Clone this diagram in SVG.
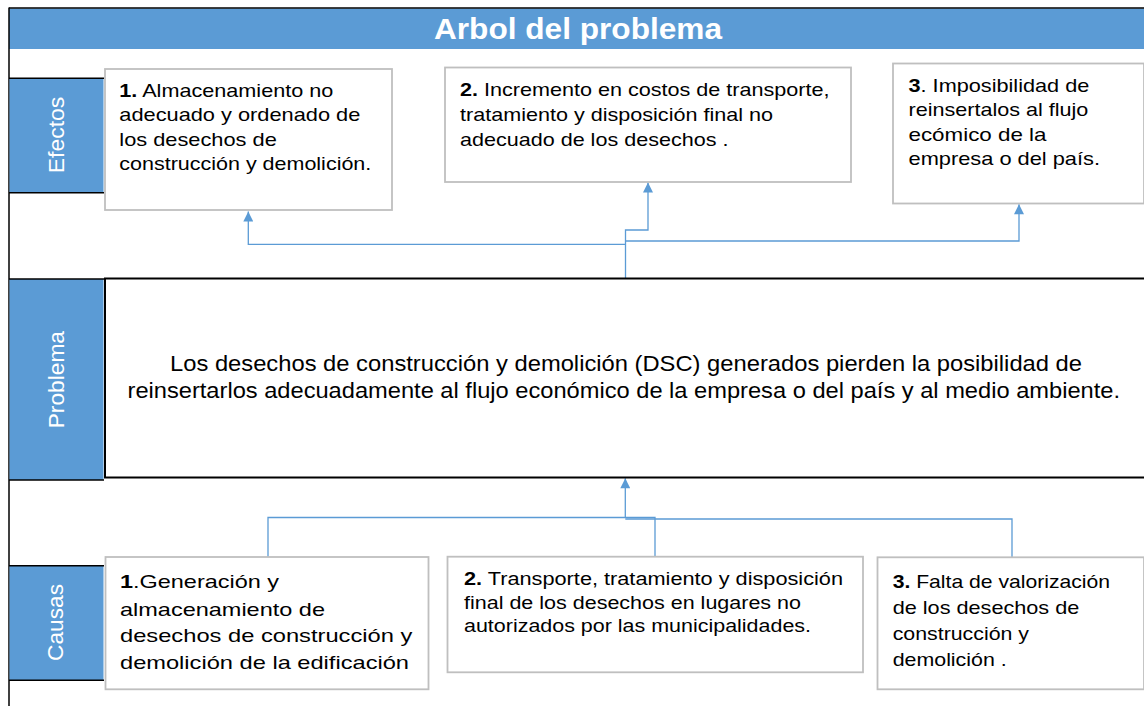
<svg xmlns="http://www.w3.org/2000/svg" width="1144" height="706" viewBox="0 0 1144 706">
<defs>
<style>
.t{font-family:"Liberation Sans",Arial,sans-serif;fill:#000;}
.e{font-size:18.5px;}
.c2{font-size:17.5px;}
.p{font-size:22px;}
.lbl{font-family:"Liberation Sans",Arial,sans-serif;font-size:22px;fill:#fff;text-anchor:middle;}
.title{font-family:"Liberation Sans",Arial,sans-serif;font-size:29px;font-weight:bold;fill:#fff;}
.box{fill:#fff;stroke:#BFBFBF;stroke-width:1.8;}
.lane{fill:#5B9BD5;}
.blk{stroke:#000;stroke-width:1.5;fill:none;}
.conn{fill:none;stroke:#5B9BD5;stroke-width:1.3;}
b,.b{font-weight:bold;}
</style>
<marker id="arr" viewBox="0 0 10 10" refX="10" refY="5" markerWidth="11" markerHeight="10" markerUnits="userSpaceOnUse" orient="auto">
<path d="M0,0 L10,5 L0,10 z" fill="#5B9BD5"/>
</marker>
</defs>
<rect x="0" y="0" width="1144" height="706" fill="#fff"/>

<!-- frame and title -->
<g id="title">
<rect x="9" y="8.5" width="1135" height="40.5" class="lane"/>
<text class="title" x="434" y="39.3" textLength="288" lengthAdjust="spacingAndGlyphs">Arbol del problema</text>
</g>
<g id="frame">
<line x1="9" y1="8" x2="1144" y2="8" class="blk"/>
<line x1="9" y1="7.5" x2="9" y2="706" class="blk"/>
</g>

<!-- lane labels -->
<g id="lane-efectos">
<rect x="9.5" y="78.3" width="94" height="114.4" class="lane"/>
<line x1="9" y1="78.3" x2="104" y2="78.3" class="blk"/>
<line x1="9" y1="192.7" x2="104" y2="192.7" class="blk"/>
<text class="lbl" transform="translate(63.5,135) rotate(-90)" textLength="76.6" lengthAdjust="spacingAndGlyphs">Efectos</text>
</g>
<g id="lane-problema">
<rect x="9.5" y="279" width="94" height="201" class="lane"/>
<line x1="9" y1="279" x2="104" y2="279" class="blk"/>
<line x1="9" y1="480" x2="104" y2="480" class="blk"/>
<text class="lbl" transform="translate(64.3,379.7) rotate(-90)" textLength="97.3" lengthAdjust="spacingAndGlyphs">Problema</text>
</g>
<g id="lane-causas">
<rect x="9.5" y="565.7" width="94" height="114.6" class="lane"/>
<line x1="9" y1="565.7" x2="104" y2="565.7" class="blk"/>
<line x1="9" y1="680.3" x2="104" y2="680.3" class="blk"/>
<text class="lbl" transform="translate(62.8,622.5) rotate(-90)" textLength="77" lengthAdjust="spacingAndGlyphs">Causas</text>
</g>

<!-- connectors -->
<g id="connectors">
<polyline class="conn" points="625.5,278 625.5,230 648,230 648,182.5" marker-end="url(#arr)"/>
<polyline class="conn" points="625.5,241 1019,241 1019,204.3" marker-end="url(#arr)"/>
<polyline class="conn" points="625.5,244.3 248.3,244.3 248.3,211.5" marker-end="url(#arr)"/>
<polyline class="conn" points="625.3,518 625.3,478.3" marker-end="url(#arr)"/>
<polyline class="conn" points="268,557 268,517.5 655,517.5 655,556.7"/>
<polyline class="conn" points="625.3,519 1012,519 1012,557"/>
</g>

<!-- effect nodes -->
<g id="efecto-1">
<rect x="105" y="69" width="287" height="141" class="box"/>
<text class="t e" x="119.3" y="96.5" textLength="214" lengthAdjust="spacingAndGlyphs"><tspan class="b">1.</tspan> Almacenamiento  no</text>
<text class="t e" x="119.3" y="121" textLength="241" lengthAdjust="spacingAndGlyphs">adecuado  y ordenado de</text>
<text class="t e" x="119.3" y="145.5" textLength="157.5" lengthAdjust="spacingAndGlyphs">los desechos de</text>
<text class="t e" x="119.3" y="170" textLength="252" lengthAdjust="spacingAndGlyphs">construcción  y demolición.</text>
</g>
<g id="efecto-2">
<rect x="445" y="67.5" width="406" height="114.5" class="box"/>
<text class="t e" x="460" y="96.3" textLength="369.5" lengthAdjust="spacingAndGlyphs"><tspan class="b">2.</tspan> Incremento  en costos de transporte,</text>
<text class="t e" x="460" y="121" textLength="313" lengthAdjust="spacingAndGlyphs">tratamiento  y disposición final no</text>
<text class="t e" x="460" y="145.5" textLength="268.4" lengthAdjust="spacingAndGlyphs">adecuado  de los desechos .</text>
</g>
<g id="efecto-3">
<rect x="893" y="63.5" width="251" height="140" class="box"/>
<text class="t e" x="908.5" y="91.7" textLength="180.8" lengthAdjust="spacingAndGlyphs"><tspan class="b">3</tspan>. Imposibilidad de</text>
<text class="t e" x="908.5" y="116" textLength="179.8" lengthAdjust="spacingAndGlyphs">reinsertalos  al flujo</text>
<text class="t e" x="908.5" y="140.5" textLength="138" lengthAdjust="spacingAndGlyphs">ecómico de la</text>
<text class="t e" x="908.5" y="165" textLength="191.5" lengthAdjust="spacingAndGlyphs">empresa o del país.</text>
</g>

<!-- problem node -->
<g id="problema">
<rect x="105" y="278.5" width="1045" height="199" fill="#fff" stroke="#000" stroke-width="2"/>
<text class="t p" x="170" y="371" textLength="912" lengthAdjust="spacingAndGlyphs">Los desechos de construcción y demolición (DSC) generados pierden la posibilidad de</text>
<text class="t p" x="127.5" y="398.3" textLength="992.5" lengthAdjust="spacingAndGlyphs">reinsertarlos adecuadamente al flujo económico de la empresa o del país y al medio ambiente.</text>
</g>

<!-- cause nodes -->
<g id="causa-1">
<rect x="105.5" y="557" width="323" height="132.3" class="box"/>
<text class="t e" x="120" y="588.3" textLength="159" lengthAdjust="spacingAndGlyphs"><tspan class="b">1</tspan>.Generación y</text>
<text class="t e" x="120" y="615.5" textLength="205" lengthAdjust="spacingAndGlyphs">almacenamiento de</text>
<text class="t e" x="120" y="642.3" textLength="292.3" lengthAdjust="spacingAndGlyphs">desechos de construcción y</text>
<text class="t e" x="120" y="669" textLength="289" lengthAdjust="spacingAndGlyphs">demolición de la edificación</text>
</g>
<g id="causa-2">
<rect x="447.5" y="556.7" width="415.5" height="115.6" class="box"/>
<text class="t c2" x="464" y="585" textLength="379" lengthAdjust="spacingAndGlyphs"><tspan class="b">2.</tspan> Transporte, tratamiento y disposición</text>
<text class="t c2" x="464" y="608.5" textLength="337" lengthAdjust="spacingAndGlyphs">final de los desechos en lugares  no</text>
<text class="t c2" x="464" y="632" textLength="347" lengthAdjust="spacingAndGlyphs">autorizados por las municipalidades.</text>
</g>
<g id="causa-3">
<rect x="877.5" y="557.3" width="266.5" height="132" class="box"/>
<text class="t e" x="892.7" y="588.3" textLength="217.3" lengthAdjust="spacingAndGlyphs"><tspan class="b">3.</tspan> Falta de valorización</text>
<text class="t e" x="892.7" y="614" textLength="186.6" lengthAdjust="spacingAndGlyphs">de los desechos de</text>
<text class="t e" x="892.7" y="639.5" textLength="136.3" lengthAdjust="spacingAndGlyphs">construcción  y</text>
<text class="t e" x="892.7" y="665.5" textLength="114" lengthAdjust="spacingAndGlyphs">demolición .</text>
</g>
</svg>
